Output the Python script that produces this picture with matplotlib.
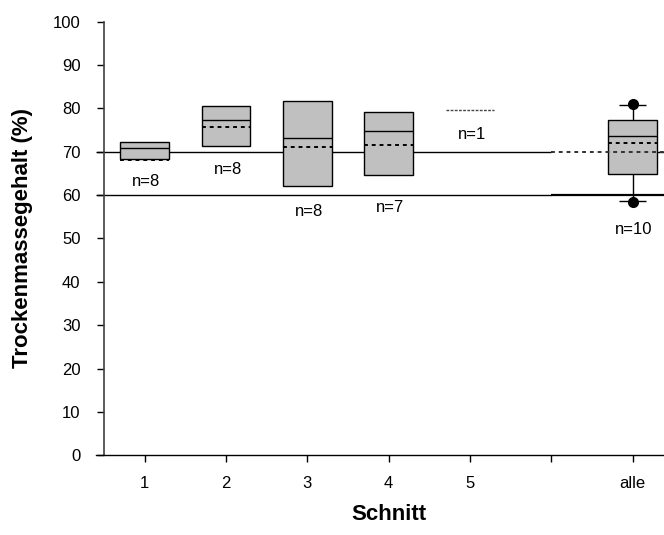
import numpy as np
import matplotlib
matplotlib.use("Agg")
import matplotlib.pyplot as plt

plt.rcParams['font.family'] = ['Liberation Sans', 'DejaVu Sans']

# data
positions = [1, 2, 3, 4, 5, 7]
tick_pos = [1, 2, 3, 4, 5, 6, 7]
tick_labels = ['1', '2', '3', '4', '5', '', 'alle']
q1 = [68.4, 71.3, 62.1, 64.7, 79.6, 64.9]
median = [70.9, 77.3, 73.1, 74.9, 79.6, 73.6]
q3 = [72.2, 80.5, 81.7, 79.2, 79.6, 77.4]
mean = [68.2, 75.6, 71.0, 71.6, 79.6, 71.95]
n_values = [8, 8, 8, 7, 1, 10]
label_y = [63.1, 65.8, 56.2, 57.2, 73.9, 52.1]

# whiskers / outliers only for "alle"
whisker_low = 58.6
whisker_high = 80.8
outliers = [58.5, 81.0]

fig = plt.figure(figsize=(6.64, 5.35), dpi=100)
ax = fig.add_axes([0.1446, 0.149, 0.857, 0.8105])

box_w = 0.6
# reference lines at 70 % and 60 %
ax.hlines(70, 0.4, 6.0, color='black', lw=1.0, zorder=1)
ax.hlines(70, 7 + box_w / 2, 7.4, color='black', lw=1.0, zorder=1)
ax.hlines(70, 6.0, 7.4, color='#333333', lw=1.4, linestyles=(0, (2, 2)), zorder=4)
ax.hlines(60, 0.4, 6.0, color='black', lw=1.0, zorder=1)
ax.hlines(60, 6.0, 7.4, color='black', lw=1.6, zorder=1)

for i, x in enumerate(positions):
    if n_values[i] > 1:
        ax.bar(x, q3[i] - q1[i], bottom=q1[i], width=box_w, color='#c0c0c0',
               edgecolor='black', linewidth=1.0, zorder=2)
        ax.hlines(median[i], x - box_w / 2, x + box_w / 2, color='black', lw=1.0, zorder=3)
        ax.hlines(mean[i], x - box_w / 2, x + box_w / 2, color='black', lw=1.4,
                  linestyles=(0, (2, 2)), zorder=3)
    else:
        ax.hlines(mean[i], x - box_w / 2, x + box_w / 2, color='#444444', lw=1.0,
                  linestyles=(0, (2, 1)), zorder=3)
    ax.text(x + 0.02, label_y[i], 'n=%d' % n_values[i], fontsize=12,
            ha='center', va='center')

# whiskers for "alle"
xa = positions[-1]
ax.vlines(xa, q3[-1], whisker_high, color='black', lw=1.0, zorder=2)
ax.vlines(xa, whisker_low, q1[-1], color='black', lw=1.0, zorder=2)
ax.hlines([whisker_low, whisker_high], xa - 0.165, xa + 0.165, color='black', lw=1.0, zorder=2)
ax.plot([xa] * len(outliers), outliers, 'o', color='black', ms=7, zorder=5)

ax.set_xlim(0.4, 7.4)
ax.set_ylim(0, 100)
ax.spines['top'].set_visible(False)
ax.spines['right'].set_visible(False)
ax.spines['left'].set_position(('data', 0.5))
ax.spines['left'].set_color('#404040')
ax.spines['left'].set_linewidth(1.2)
ax.spines['bottom'].set_linewidth(1.0)
ax.spines['bottom'].set_bounds(0.4, 7.4)

ax.set_yticks(np.arange(0, 101, 10))
ax.set_xticks(tick_pos)
ax.set_xticklabels(tick_labels)
ax.tick_params(axis='both', direction='out', length=5, width=1.0, labelsize=12)
ax.tick_params(axis='x', pad=10)
ax.tick_params(axis='y', pad=12)

ax.set_ylabel('Trockenmassegehalt (%)', fontsize=16, fontweight='bold')
ax.yaxis.set_label_coords(-0.111, 0.5)
ax.set_xlabel('Schnitt', fontsize=16, fontweight='bold')
ax.xaxis.set_label_coords((4 - 0.4) / 7.0, -0.112)

fig.savefig('out.png', dpi=100)
